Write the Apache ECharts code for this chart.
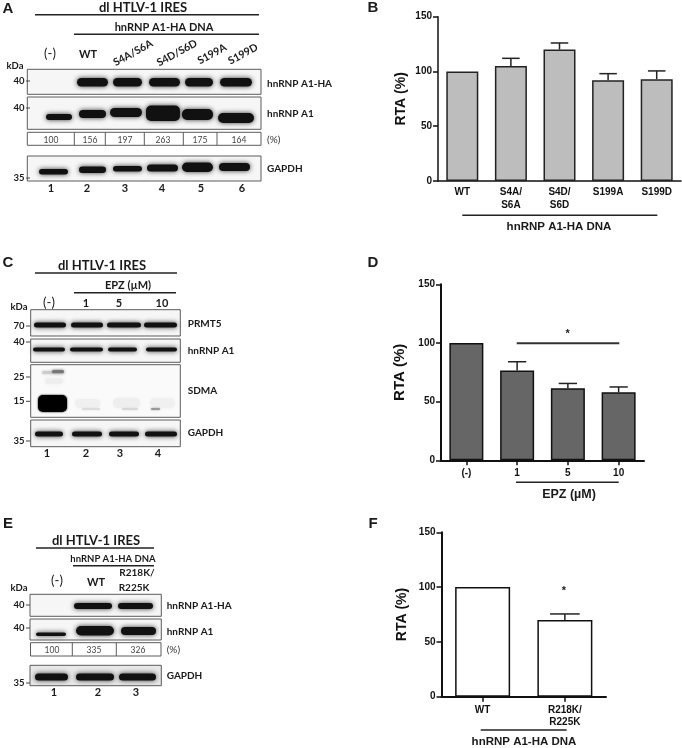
<!DOCTYPE html>
<html>
<head>
<meta charset="utf-8">
<style>
  html, body { margin: 0; padding: 0; background: #fff; }
  #fig { width: 682px; height: 748px; }
</style>
<script src="https://cdn.jsdelivr.net/npm/echarts@6/dist/echarts.min.js"></script>
</head>
<body>
<div id="fig"></div>
<script>
// bar panels
const bCategories = ['WT', 'S4A/\nS6A', 'S4D/\nS6D', 'S199A', 'S199D']
const bMeans = [100, 105, 120, 92, 93]
const bErrTops = [null, 112, 126, 98, 100.5]

const dCategories = ['(-)', '1', '5', '10']
const dMeans = [100, 76.5, 61.5, 58]
const dErrTops = [null, 84, 65.5, 62.5]

const fCategories = ['WT', 'R218K/\nR225K']
const fMeans = [100, 70]
const fErrTops = [null, 75.5]

const yTicks = [0, 50, 100, 150]

// numbers under the blots
const aPercents = ['100', '156', '197', '263', '175', '164']
const ePercents = ['100', '335', '326']

const SANS = '"Liberation Sans", Arial, sans-serif'
const BLOT = 'Lato, "Noto Sans", sans-serif'
const INK = '#1a1a1a'

const g = []

function txt(x, y, text, size, opt) {
  opt = opt || {}
  g.push({
    type: 'text', x: x, y: y, rotation: opt.rot || 0, z: 20,
    style: {
      text: text,
      font: (opt.normal ? '' : 'bold ') + size + 'px ' + (opt.family || BLOT),
      fill: opt.color || INK,
      align: opt.align || 'center',
      verticalAlign: 'middle'
    }
  })
}
function hline(x1, x2, y, w, color) {
  g.push({ type: 'line', z: 15, shape: { x1: x1, y1: y, x2: x2, y2: y }, style: { stroke: color || '#222', lineWidth: w || 1.5 } })
}
function box(x0, y0, x1, y1, fill) {
  g.push({ type: 'rect', z: 10, shape: { x: x0, y: y0, width: x1 - x0, height: y1 - y0 }, style: { fill: fill || '#f6f6f6', stroke: '#5c5c5c', lineWidth: 1 } })
}
function band(x0, x1, y0, y1, color, blur) {
  g.push({
    type: 'rect', z: 12,
    shape: { x: x0, y: y0, width: x1 - x0, height: y1 - y0, r: Math.min(5, (y1 - y0) / 2) },
    style: { fill: color || '#111', shadowBlur: blur === undefined ? 5 : blur, shadowColor: color || '#333' }
  })
}
function marker(y, label) {
  txt(19, y, label, 9.5)
  hline(26, 30, y, 1, '#444')
}

// panel A
txt(8, 9, 'A', 15, { family: SANS })
txt(143, 8, 'dl HTLV-1 IRES', 13)
hline(35, 259, 14.7)
txt(164, 27.7, 'hnRNP A1-HA DNA', 11)
hline(74, 259, 34.3)
txt(50, 54, '(-)', 13, { normal: true })
txt(88, 54, 'WT', 11)
txt(133, 53, 'S4A/S6A', 10.5, { rot: 0.5 })
txt(177, 53, 'S4D/S6D', 10.5, { rot: 0.5 })
txt(212, 54, 'S199A', 10.5, { rot: 0.5 })
txt(243, 54, 'S199D', 10.5, { rot: 0.5 })
txt(15, 66, 'kDa', 9.5)
box(27.3, 69.3, 261, 94.3)
box(27.3, 97, 261, 129.3)
box(27.3, 156, 261, 181)
marker(81, '40')
marker(108, '40')
marker(178, '35')
;[[77, 108], [113, 142], [149, 180], [185, 213], [220, 252]].forEach(b => band(b[0], b[1], 78, 86.5))
band(46, 72, 114, 120)
band(79, 106, 110, 118)
band(110, 142, 108, 117)
band(146, 180, 105.5, 121)
band(182, 213, 109, 120)
band(218, 254, 113, 123)
band(39, 68, 169, 174.5)
band(79, 106, 166.5, 173)
band(113, 142, 166, 171.5)
band(147, 178, 164.5, 171.5)
band(182, 213, 162.5, 172)
band(219, 250, 163, 171)
txt(267, 84, 'hnRNP A1-HA', 10, { align: 'left' })
txt(267, 114, 'hnRNP A1', 10, { align: 'left' })
txt(267, 169, 'GAPDH', 10, { align: 'left' })
// percent strip of A
box(27.3, 132.3, 261, 145.3, '#fff')
;[74.3, 105.3, 144.3, 183.3, 217].forEach(x => g.push({ type: 'line', z: 11, shape: { x1: x, y1: 132.3, x2: x, y2: 145.3 }, style: { stroke: '#5c5c5c', lineWidth: 1 } }))
;[51, 90, 125, 163, 200, 239].forEach((x, i) => txt(x, 140, aPercents[i], 8.5, { normal: true, color: '#444' }))
txt(267, 140, '(%)', 10, { normal: true, align: 'left', color: '#333' })
;[51, 87, 125, 162, 201, 242].forEach((x, i) => txt(x, 188, String(i + 1), 11))

// panel C
txt(8, 263, 'C', 15, { family: SANS })
txt(102, 266, 'dl HTLV-1 IRES', 13)
hline(35, 177, 273)
txt(128, 285, 'EPZ (µM)', 11)
hline(74, 176, 292.7)
txt(49, 303, '(-)', 13, { normal: true })
txt(86, 303, '1', 11)
txt(119, 303, '5', 11)
txt(162, 303, '10', 11)
txt(19, 307, 'kDa', 9.5)
box(30.7, 309.7, 180.3, 336)
box(30.7, 339, 180.3, 362.3)
box(30.7, 364.7, 180.3, 417.3, '#fafafa')
box(30.7, 420, 180.3, 446.7)
;[[70, 326], [40, 342], [25, 377], [15, 401.3], [35, 441]].forEach(m => marker(m[1], String(m[0])))
;[[34, 66], [71, 103], [107, 141], [144, 177]].forEach(b => band(b[0], b[1], 322.5, 327.5))
;[[33, 65], [70, 103], [108, 137], [146, 177]].forEach(b => band(b[0], b[1], 347.5, 351.5))
;[[35, 63], [72, 102], [109, 139], [145, 177]].forEach(b => band(b[0], b[1], 431.5, 436.5))
// SDMA lane
band(38, 67, 395, 412, '#000', 2)
band(45, 63, 378, 384, '#eeeeee', 4)
band(42, 64, 371, 374, '#cccccc', 3)
band(52, 64, 370, 373, '#777777', 3)
band(75, 100, 399, 408, '#f0f0f0', 3)
band(113, 140, 398, 408, '#eeeeee', 3)
band(150, 175, 398, 408, '#f0f0f0', 3)
band(82, 100, 408, 410, '#dddddd', 2)
band(122, 138, 408, 410, '#d8d8d8', 2)
band(151, 160, 408, 410, '#999999', 2)
txt(187.7, 323.7, 'PRMT5', 10, { align: 'left' })
txt(187.7, 351, 'hnRNP A1', 10, { align: 'left' })
txt(187.7, 391, 'SDMA', 10, { align: 'left' })
txt(187.7, 433, 'GAPDH', 10, { align: 'left' })
;[47, 86, 120, 158].forEach((x, i) => txt(x, 453.7, String(i + 1), 11))

// panel E
txt(8, 524, 'E', 15, { family: SANS })
txt(96, 540.7, 'dl HTLV-1 IRES', 13)
hline(36, 154, 548)
txt(113, 559, 'hnRNP A1-HA DNA', 9.5)
hline(73, 154, 565.7)
txt(57, 581, '(-)', 13, { normal: true })
txt(96, 582, 'WT', 11)
txt(137, 573, 'R218K/', 10)
txt(134, 588, 'R225K', 10)
txt(19, 588, 'kDa', 9.5)
box(30, 594.3, 161.3, 616.3)
box(30, 619, 161.3, 640)
box(30, 665.3, 161.3, 685.7, '#e8e8e8')
marker(605, '40')
marker(628, '40')
marker(683, '35')
band(74, 112, 603, 609)
band(118, 153, 603, 609)
band(36, 66, 632.5, 636)
band(76, 114, 626, 635.5)
band(121, 156, 627, 635)
;[[35, 68], [76, 114], [119, 156]].forEach(b => band(b[0], b[1], 673.5, 680.5))
box(30.5, 642.7, 161, 656, '#fff')
;[72.3, 116.3].forEach(x => g.push({ type: 'line', z: 11, shape: { x1: x, y1: 642.7, x2: x, y2: 656 }, style: { stroke: '#5c5c5c', lineWidth: 1 } }))
;[52, 94, 138].forEach((x, i) => txt(x, 650, ePercents[i], 8.5, { normal: true, color: '#444' }))
txt(166.7, 650, '(%)', 10, { normal: true, align: 'left', color: '#333' })
txt(166.7, 605.7, 'hnRNP A1-HA', 10, { align: 'left' })
txt(166.7, 631.7, 'hnRNP A1', 10, { align: 'left' })
txt(166.7, 676, 'GAPDH', 10, { align: 'left' })
;[54, 98, 136].forEach((x, i) => txt(x, 692, String(i + 1), 11))

// right-hand panel letters and group rules
txt(373, 8, 'B', 15, { family: SANS })
hline(462.3, 657.3, 215.3, 1.5)
txt(559, 227, 'hnRNP A1-HA DNA', 11.5, { family: SANS })

txt(373, 263, 'D', 15, { family: SANS })
hline(516.7, 619.3, 343.3, 2, '#333')
txt(567.7, 334, '*', 11, { family: SANS })
hline(516, 618.7, 482.3, 1.5)
txt(569, 495, 'EPZ (µM)', 12.5, { family: SANS })

txt(373, 524, 'F', 15, { family: SANS })
txt(564, 591, '*', 11, { family: SANS })
hline(480.7, 566.7, 730, 1.5)
txt(524, 742, 'hnRNP A1-HA DNA', 11.5, { family: SANS })

const panels = [
  { cats: bCategories, means: bMeans, tops: bErrTops, fill: '#bdbdbd', border: '#222', barWidth: 32, left: 438, top: 16.7, width: 243, height: 164.3, ticks: false, lw: 1.5, margin: 5, nameGap: 30, nameSize: 14 },
  { cats: dCategories, means: dMeans, tops: dErrTops, fill: '#666666', border: '#111', barWidth: 34, left: 441, top: 284.3, width: 203, height: 176, ticks: true, lw: 2, margin: 7, nameGap: 34, nameSize: 15 },
  { cats: fCategories, means: fMeans, tops: fErrTops, fill: '#ffffff', border: '#111', barWidth: 55, left: 441.5, top: 532.3, width: 164.5, height: 164.4, ticks: true, lw: 2, margin: 7, nameGap: 32, nameSize: 14 }
]

const grids = [], xAxes = [], yAxes = [], series = []
panels.forEach((p, i) => {
  grids.push({ left: p.left, top: p.top, width: p.width, height: p.height })
  xAxes.push({
    type: 'category', gridIndex: i, data: p.cats,
    axisLine: { lineStyle: { color: '#111', width: p.lw } },
    axisTick: { show: p.ticks, alignWithLabel: true, length: 5, lineStyle: { color: '#111', width: 1.5 } },
    axisLabel: { interval: 0, margin: p.margin, color: '#111', fontFamily: SANS, fontWeight: 'bold', fontSize: 10, lineHeight: 12.5 }
  })
  yAxes.push({
    type: 'value', gridIndex: i, min: yTicks[0], max: yTicks[yTicks.length - 1], interval: yTicks[1] - yTicks[0],
    name: 'RTA (%)', nameLocation: 'middle', nameRotate: 90, nameGap: p.nameGap,
    nameTextStyle: { color: '#111', fontFamily: SANS, fontWeight: 'bold', fontSize: p.nameSize },
    splitLine: { show: false },
    axisLine: { show: true, lineStyle: { color: '#111', width: p.lw } },
    axisTick: { show: true, length: 5, lineStyle: { color: '#111', width: 1.5 } },
    axisLabel: { margin: 6, color: '#111', fontFamily: SANS, fontWeight: 'bold', fontSize: 10 }
  })
  series.push({
    type: 'bar', xAxisIndex: i, yAxisIndex: i, data: p.means, barWidth: p.barWidth, z: 3,
    itemStyle: { color: p.fill, borderColor: p.border, borderWidth: 1.5 }
  })
  series.push({
    type: 'custom', xAxisIndex: i, yAxisIndex: i, z: 2,
    data: p.tops.map((t, k) => [k, t, p.means[k]]).filter(d => d[1] !== null),
    encode: { x: 0, y: [1, 2] },
    renderItem: function (params, api) {
      const top = api.coord([api.value(0), api.value(1)])
      const base = api.coord([api.value(0), api.value(2)])
      const cap = api.size([1, 0])[0] * 0.18
      const st = { stroke: '#222', lineWidth: 1.5, fill: 'none' }
      return {
        type: 'group',
        children: [
          { type: 'line', shape: { x1: top[0], y1: top[1], x2: base[0], y2: base[1] }, style: st },
          { type: 'line', shape: { x1: top[0] - cap, y1: top[1], x2: top[0] + cap, y2: top[1] }, style: st }
        ]
      }
    }
  })
})

const chart = echarts.init(document.getElementById('fig'))
chart.setOption({
  animation: false,
  backgroundColor: '#fff',
  grid: grids,
  xAxis: xAxes,
  yAxis: yAxes,
  series: series,
  graphic: { elements: g }
})
</script>
</body>
</html>
